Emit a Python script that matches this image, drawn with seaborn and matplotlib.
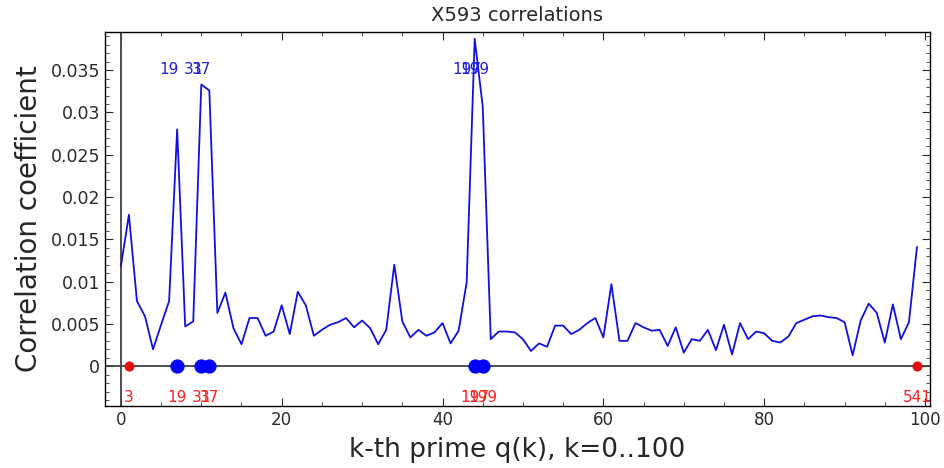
import numpy as np
import pandas as pd
import matplotlib
matplotlib.use("Agg")
import matplotlib.pyplot as plt
import seaborn as sns
from matplotlib.ticker import AutoMinorLocator, MultipleLocator

# correlation for the k-th prime, k = 0..99
corr = [0.0118, 0.0179, 0.0077, 0.0059, 0.0020, 0.0049, 0.0077, 0.0280, 0.0047, 0.0053,
        0.0333, 0.0326, 0.0063, 0.0087, 0.0045, 0.0026, 0.0057, 0.0057, 0.0036, 0.0041,
        0.0072, 0.0038, 0.0088, 0.0072, 0.0036, 0.0043, 0.0049, 0.0052, 0.0057, 0.0046,
        0.0054, 0.0045, 0.0026, 0.0043, 0.0120, 0.0053, 0.0034, 0.0043, 0.0036, 0.0040,
        0.0051, 0.0027, 0.0042, 0.0099, 0.0387, 0.0307, 0.0032, 0.0041, 0.0041, 0.0040,
        0.0032, 0.0018, 0.0027, 0.0023, 0.0048, 0.0048, 0.0038, 0.0043, 0.0051, 0.0057,
        0.0034, 0.0097, 0.0030, 0.0030, 0.0051, 0.0046, 0.0042, 0.0043, 0.0024, 0.0046,
        0.0016, 0.0032, 0.0030, 0.0043, 0.0019, 0.0049, 0.0014, 0.0051, 0.0032, 0.0041,
        0.0039, 0.0030, 0.0028, 0.0035, 0.0051, 0.0055, 0.0059, 0.0060, 0.0058, 0.0057,
        0.0052, 0.0013, 0.0054, 0.0074, 0.0063, 0.0028, 0.0073, 0.0032, 0.0052, 0.0141]
k = list(range(len(corr)))

# primes with big correlation (blue) and the two ends (red)
peak_k = [7, 10, 11, 44, 45]
peak_p = ["19", "31", "37", "197", "199"]
end_k = [1, 99]
end_p = ["3", "541"]

df = pd.DataFrame({"k": k, "corr": corr})

sns.set_style("ticks")
plt.rcParams["font.family"] = ["DejaVu Sans"]

fig = plt.figure(figsize=(9.44, 4.68), dpi=100)
ax = fig.add_axes([0.111, 0.1325, 0.874, 0.799])

ax.axhline(0, color="#404040", lw=1.3, zorder=1)
ax.axvline(0, color="#404040", lw=1.3, zorder=1)

sns.lineplot(data=df, x="k", y="corr", color="#1010e0", lw=1.3, ax=ax, zorder=3)

sns.scatterplot(x=peak_k, y=[0] * len(peak_k), color="#0000ff", s=90,
                edgecolor="#0000ff", ax=ax, zorder=4)
sns.scatterplot(x=end_k, y=[0] * len(end_k), color="#e01010", s=45,
                edgecolor="#e01010", ax=ax, zorder=4)

for kk, p in zip(peak_k, peak_p):
    ax.text(kk - 1, 0.0351, p, color="#2020e0", fontsize=11, ha="center", va="center")
for kk, p in zip(end_k + peak_k, end_p + peak_p):
    ax.text(kk, -0.0037, p, color="#ff2020", fontsize=11, ha="center", va="center")

ax.set_xlim(-2, 100.6)
ax.set_ylim(-0.0047, 0.0395)
ax.xaxis.set_major_locator(MultipleLocator(20))
ax.xaxis.set_minor_locator(MultipleLocator(5))
ax.yaxis.set_major_locator(MultipleLocator(0.005))
ax.yaxis.set_minor_locator(AutoMinorLocator(5))
ax.set_yticklabels(["", "0", "0.005", "0.01", "0.015", "0.02", "0.025", "0.03", "0.035", ""][:len(ax.get_yticks())])
ax.tick_params(which="both", direction="in", top=True, right=True, color="#333333")
ax.tick_params(which="major", length=6, labelsize=12, colors="#2a2a2a")
ax.tick_params(axis="y", which="major", labelsize=12.5)
ax.tick_params(which="minor", length=3)
for s in ax.spines.values():
    s.set_color("black")
    s.set_linewidth(1.0)

ax.set_title("X593 correlations", fontsize=14, pad=8)
ax.set_xlabel("k-th prime q(k), k=0..100", fontsize=19, labelpad=6)
ax.set_ylabel("Correlation coefficient", fontsize=20, labelpad=5)

fig.savefig("out.png", dpi=100)
